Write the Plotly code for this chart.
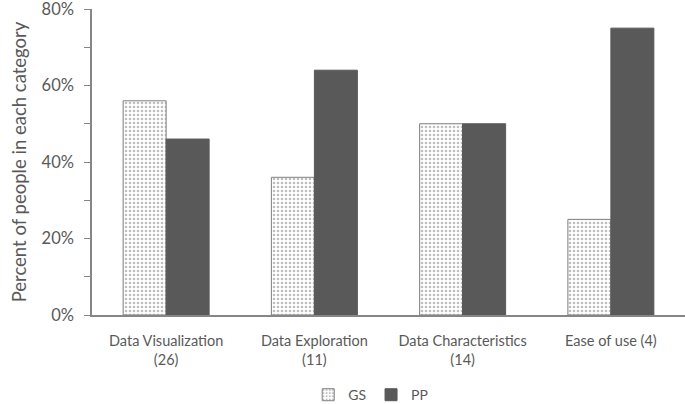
import plotly.graph_objects as go

categories = ["Data Visualization<br>(26)", "Data Exploration<br>(11)",
              "Data Characteristics<br>(14)", "Ease of use (4)"]
gs_values = [56, 36, 50, 25]
pp_values = [46, 64, 50, 75]

TEXT = "#595959"
AXIS = "#868686"

fig = go.Figure()
fig.add_trace(go.Bar(
    x=categories, y=gs_values, name="GS",
    marker=dict(color="white", line=dict(color="#7f7f7f", width=1),
                pattern=dict(shape=".", fgcolor="#7f7f7f", bgcolor="white",
                             size=4, solidity=0.35)),
))
fig.add_trace(go.Bar(
    x=categories, y=pp_values, name="PP",
    marker=dict(color="#595959", line=dict(color="#595959", width=1)),
))

fig.update_layout(
    width=685, height=404,
    barmode="group", bargap=0.42, bargroupgap=0,
    paper_bgcolor="white", plot_bgcolor="white",
    font=dict(family="Lato, sans-serif", color=TEXT, size=15),
    margin=dict(t=9, l=92, r=0, b=89, autoexpand=False),
    showlegend=True,
    legend=dict(orientation="h", x=0.47, xanchor="center",
                yref="container", y=0.022, yanchor="middle",
                font=dict(size=14), itemwidth=30, tracegroupgap=0),
    xaxis=dict(showline=True, linecolor=AXIS, linewidth=1.5, ticks="",
               showgrid=False, tickfont=dict(size=14.5), automargin=False,
               ticklabelstandoff=12),
    yaxis=dict(range=[0, 80], dtick=20, ticksuffix="%", showline=True,
               linecolor=AXIS, linewidth=1.5, ticks="outside", ticklen=6,
               tickcolor=AXIS, showgrid=False, zeroline=False, automargin=False,
               ticklabelstandoff=7, ticklabeloverflow="allow",
               minor=dict(dtick=10, ticks="outside", ticklen=6, tickcolor=AXIS),
               title=dict(text="Percent of people in each category",
                          font=dict(size=18.5), standoff=10),
               tickfont=dict(size=16.5)),
)

# page has a default body margin; drop it so the figure sits at the top-left corner
fig.write_html("out.html", config={"displayModeBar": False},
               post_script="document.body.style.margin='0';")
